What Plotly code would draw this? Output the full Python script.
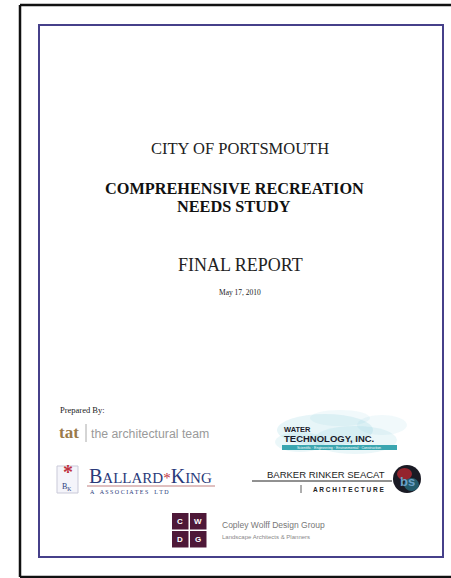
import plotly.graph_objects as go

W, H = 451, 578

# Text content of the cover
title_lines = ["CITY OF PORTSMOUTH"]
study_lines = ["COMPREHENSIVE RECREATION", "NEEDS STUDY"]
report_label = "FINAL REPORT"
report_date = "May 17, 2010"
prepared_label = "Prepared By:"
tat_mark = "tat"
tat_name = "the architectural team"
water_lines = ["WATER", "TECHNOLOGY, INC."]
water_tag = "Scientific · Engineering · Environmental · Construction"
bk_name = ["B", "ALLARD", "*", "K", "ING"]
bk_sub = "A    A S S O C I A T E S    L T D"
brs_name = "BARKER RINKER SEACAT"
brs_sub = "ARCHITECTURE"
cwdg_letters = ["C", "W", "D", "G"]
cwdg_name = "Copley Wolff Design Group"
cwdg_sub = "Landscape Architects & Planners"

fig = go.Figure()
shapes = []
ann = []

def text(x, y, s, size, color="#222", family="Liberation Serif", anchor="center", bold=False):
    if bold:
        s = "<b>" + s + "</b>"
    ann.append(dict(x=x, y=y, text=s, showarrow=False, xref="x", yref="y",
                    xanchor=anchor, yanchor="middle",
                    font=dict(size=size, color=color, family=family)))

# outer black frame (right side runs past the window)
for (x0, y0, x1, y1) in [(20, 5, W, 5), (20, 5, 20, 577), (20, 577, W, 577)]:
    shapes.append(dict(type="line", x0=x0, y0=y0, x1=x1, y1=y1,
                       line=dict(color="#111", width=2.5), layer="below"))
shapes.append(dict(type="rect", x0=39, y0=25, x1=443, y1=557,
                   line=dict(color="#46408a", width=2), layer="below"))

# Main titles
text(240, 148, title_lines[0], 16.5)
text(234, 188, study_lines[0], 16.3, color="#111", bold=True)
text(234, 206, study_lines[1], 16.3, color="#111", bold=True)
text(240, 265, report_label, 18)
text(240, 292, report_date, 7.5)

# Prepared by
text(58, 410, prepared_label, 8.5, anchor="left")
text(57, 432, tat_mark, 17, color="#9a7a4a", family="Liberation Serif", anchor="left", bold=True)
shapes.append(dict(type="line", x0=86, y0=424, x1=86, y1=442, line=dict(color="#aaa", width=1)))
text(89, 434, tat_name, 12.3, color="#9a9a9a", family="Liberation Sans", anchor="left")

# Water Technology logo
for (cx, cy, rx, ry, op) in [(325, 430, 48, 16, 0.18), (355, 440, 42, 14, 0.15),
                              (300, 442, 25, 10, 0.15), (382, 425, 25, 10, 0.1),
                              (340, 418, 30, 8, 0.1)]:
    shapes.append(dict(type="circle", x0=cx - rx, y0=cy - ry, x1=cx + rx, y1=cy + ry,
                       line=dict(width=0), fillcolor="rgba(120,200,215,%s)" % op, layer="below"))
text(282, 429, "<b>" + water_lines[0] + "</b>", 7.5, color="#1a1a2a", family="Liberation Sans", anchor="left")
text(282, 438, "<b>" + water_lines[1] + "</b>", 9.5, color="#1a1a2a", family="Liberation Sans", anchor="left")
shapes.append(dict(type="rect", x0=282, y0=445, x1=397, y1=450, line=dict(width=0),
                   fillcolor="#3aa6b0"))
text(339, 447.5, water_tag, 3.5, color="white", family="Liberation Sans")

# Ballard King logo
shapes.append(dict(type="rect", x0=57, y0=466, x1=78, y1=493, line=dict(color="#c9c9d8", width=1),
                   fillcolor="#f4f4fa"))
text(68, 472, "*", 20, color="#c03040", family="Liberation Serif", bold=True)
text(66, 487, "B<sub>K</sub>", 8, color="#2a3a7a", family="Liberation Serif")
big, small = 20, 15
bk_html = ("<span style='font-size:%spx'>%s</span>%s<span style='color:#c03040'>%s</span>"
           "<span style='font-size:%spx'>%s</span>%s") % (
    big, bk_name[0], bk_name[1], bk_name[2], big, bk_name[3], bk_name[4])
text(87, 476, bk_html, small, color="#2a3a7a", family="Liberation Serif", anchor="left")
shapes.append(dict(type="line", x0=87, y0=486, x1=215, y1=486, line=dict(color="#c08080", width=1)))
text(88, 492, bk_sub, 6, color="#2a3a7a", family="Liberation Serif", anchor="left")

# Barker Rinker Seacat
text(387, 474, brs_name, 9.5, color="#222", family="Liberation Sans", anchor="right")
shapes.append(dict(type="line", x0=252, y0=481, x1=392, y1=481, line=dict(color="#222", width=1)))
shapes.append(dict(type="line", x0=301, y0=485, x1=301, y1=493, line=dict(color="#333", width=0.8)))
text(387, 489.5, "<b>" + " ".join(list(brs_sub)) + "</b>", 6.5, color="#222",
     family="Liberation Sans", anchor="right")
shapes.append(dict(type="circle", x0=393, y0=465, x1=421, y1=493, line=dict(width=0), fillcolor="#1a1a24"))
shapes.append(dict(type="circle", x0=397, y0=468, x1=412, y1=480, line=dict(width=0),
                   fillcolor="rgba(190,40,50,0.75)"))
shapes.append(dict(type="circle", x0=404, y0=478, x1=419, y1=491, line=dict(width=0),
                   fillcolor="rgba(40,120,140,0.7)"))
text(407, 481, "<b>bs</b>", 13, color="#6aa0c8", family="Liberation Sans")

# CWDG squares
for i, letter in enumerate(cwdg_letters):
    col, row = i % 2, i // 2
    x0 = 172 + col * 18
    y0 = 513 + row * 18
    shapes.append(dict(type="rect", x0=x0, y0=y0, x1=x0 + 16.5, y1=y0 + 16.5,
                       line=dict(width=0), fillcolor="#4e1838"))
    text(x0 + 8.25, y0 + 8.25, "<b>" + letter + "</b>", 8, color="white", family="Liberation Sans")
text(220, 525, cwdg_name, 8.5, color="#777", family="Liberation Sans", anchor="left")
text(220, 537, cwdg_sub, 6, color="#888", family="Liberation Sans", anchor="left")

fig.update_layout(
    width=W, height=H, margin=dict(l=0, r=0, t=0, b=0),
    paper_bgcolor="white", plot_bgcolor="white",
    xaxis=dict(range=[0, W], visible=False, fixedrange=True),
    yaxis=dict(range=[H, 0], visible=False, fixedrange=True),
    shapes=shapes, annotations=ann, showlegend=False,
)
fig.write_html("out.html", config={"displayModeBar": False},
               post_script=("document.documentElement.style.overflow='hidden';"
                            "document.body.style.margin='0';document.body.style.overflow='hidden';"))
